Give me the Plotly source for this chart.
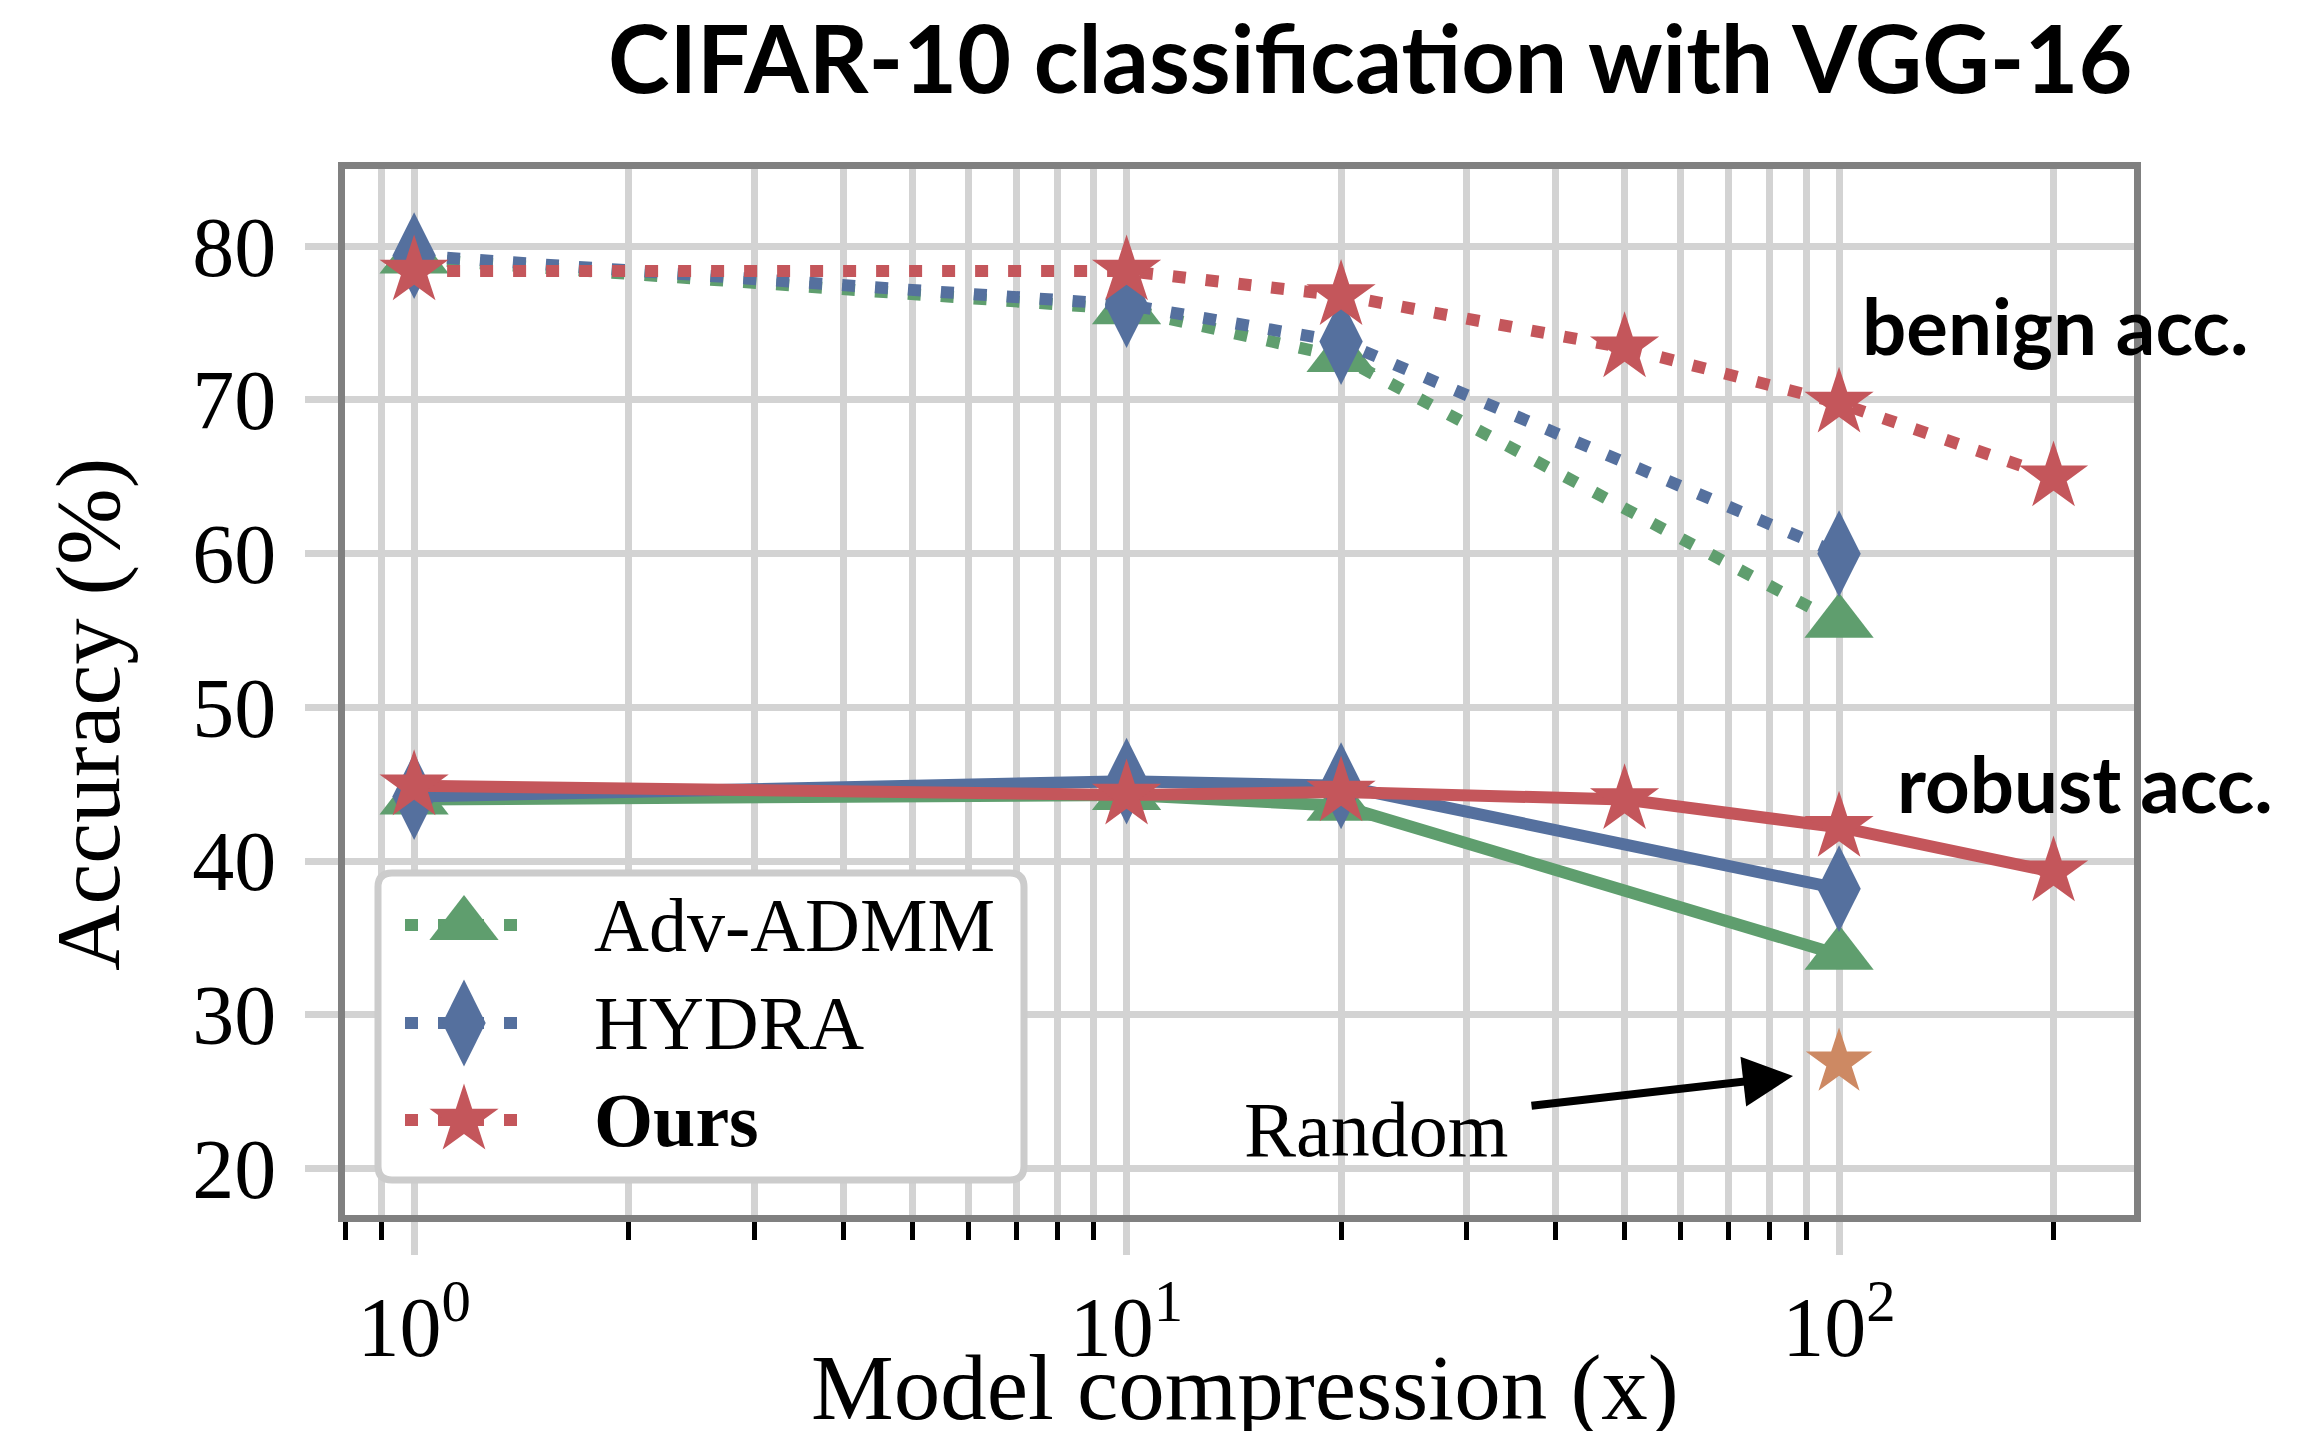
import plotly.graph_objects as go

# ---------------- data ----------------
admm_x = [1, 10, 20, 100]
admm_benign = [79.2, 75.9, 72.8, 55.5]
admm_robust = [44.0, 44.3, 43.6, 33.9]

hydra_x = [1, 10, 20, 100]
hydra_benign = [79.4, 76.2, 73.8, 60.0]
hydra_robust = [44.2, 45.2, 44.9, 38.2]

ours_x = [1, 10, 20, 50, 100, 200]
ours_benign = [78.4, 78.4, 76.8, 73.4, 69.8, 65.0]
ours_robust = [44.9, 44.3, 44.5, 44.0, 42.2, 39.3]

random_x = [100]
random_robust = [26.9]

series_names = ["Adv-ADMM", "HYDRA", "<b>Ours</b>"]
x_major_ticks = [1, 10, 100]
x_major_text = ["10<sup>0</sup>", "10<sup>1</sup>", "10<sup>2</sup>"]
x_minor_ticks = [0.8, 0.9, 2, 3, 4, 5, 6, 7, 8, 9, 20, 30, 40, 50, 60, 70, 80, 90, 200]
y_ticks = [20, 30, 40, 50, 60, 70, 80]

# ---------------- style ----------------
W, H = 2300, 1431
L, R, T, B = 345, 2134, 169, 1215
GREEN, BLUE, RED, ORANGE = "#5F9E6E", "#55709E", "#C4565B", "#CD8963"
GRID, FRAME = "#D3D3D3", "#808080"
SERIF, SANS = "Liberation Serif", "Lato"
LW = 12
DOT = "13px,20px"
SYM = {"tri": ("triangle-up", 60), "dia": ("diamond-tall", 62), "star": ("star", 52)}


def px(x):
    return (x - L) / (R - L)


def py(y):
    return (B - y) / (B - T)


fig = go.Figure()


def add(x, y, color, key, dash):
    sym, size = SYM[key]
    fig.add_trace(go.Scatter(
        x=x, y=y, mode="lines+markers",
        line=dict(color=color, width=LW, dash=dash),
        marker=dict(symbol=sym, size=size, color=color, opacity=1, line=dict(width=0)),
        showlegend=False, cliponaxis=False))


add(admm_x, admm_benign, GREEN, "tri", DOT)
add(admm_x, admm_robust, GREEN, "tri", "solid")
add(hydra_x, hydra_benign, BLUE, "dia", DOT)
add(hydra_x, hydra_robust, BLUE, "dia", "solid")
add(ours_x, ours_benign, RED, "star", DOT)
add(ours_x, ours_robust, RED, "star", "solid")
fig.add_trace(go.Scatter(
    x=random_x, y=random_robust, mode="markers",
    marker=dict(symbol="star", size=50, color=ORANGE, opacity=1, line=dict(width=0)),
    showlegend=False, cliponaxis=False))

# ---------------- manual legend (own little subplot, pixel units) ----------------
LX0, LX1, LY0, LY1 = 372, 1030, 867, 1186
lw_, lh_ = LX1 - LX0, LY1 - LY0
legend_colors = [GREEN, BLUE, RED]
legend_keys = ["tri", "dia", "star"]
row_py = [925, 1023, 1120]
for name, col, key, ry in zip(series_names, legend_colors, legend_keys, row_py):
    sym, size = SYM[key]
    yy = LY1 - ry
    fig.add_trace(go.Scatter(
        x=[405 - LX0, 464 - LX0, 522 - LX0], y=[yy, yy, yy],
        xaxis="x2", yaxis="y2", mode="lines+markers",
        line=dict(color=col, width=LW, dash=DOT),
        marker=dict(symbol=sym, size=[0, size, 0], color=col, opacity=1,
                    line=dict(width=0)),
        showlegend=False, hoverinfo="skip", cliponaxis=False))

bx0, bx1, by0, by1, rr = 6, lw_ - 6, 6, lh_ - 6, 14
box_path = (f"M {bx0+rr},{by0} L {bx1-rr},{by0} Q {bx1},{by0} {bx1},{by0+rr} "
            f"L {bx1},{by1-rr} Q {bx1},{by1} {bx1-rr},{by1} L {bx0+rr},{by1} "
            f"Q {bx0},{by1} {bx0},{by1-rr} L {bx0},{by0+rr} Q {bx0},{by0} {bx0+rr},{by0} Z")

annotations = []
for name, ry in zip(series_names, row_py):
    annotations.append(dict(
        text=name, x=592 - LX0, y=LY1 - ry, xref="x2", yref="y2",
        xanchor="left", yanchor="middle", showarrow=False,
        font=dict(family=SERIF, size=76, color="black")))

annotations += [
    dict(text="<b>CIFAR-10 classification with VGG-16</b>", x=px(1370), y=py(57),
         xref="paper", yref="paper", xanchor="center", yanchor="middle", showarrow=False,
         font=dict(family=SANS, size=93, color="black")),
    dict(text="<b>benign acc.</b>", x=px(2055), y=py(325),
         xref="paper", yref="paper", xanchor="center", yanchor="middle", showarrow=False,
         font=dict(family=SANS, size=78, color="black")),
    dict(text="<b>robust acc.</b>", x=px(2085), y=py(783),
         xref="paper", yref="paper", xanchor="center", yanchor="middle", showarrow=False,
         font=dict(family=SERIF if False else SANS, size=78, color="black")),
    dict(text="Random", x=px(1376), y=py(1129),
         xref="paper", yref="paper", xanchor="center", yanchor="middle", showarrow=False,
         font=dict(family=SERIF, size=78, color="black")),
    dict(text="", x=px(1793), y=py(1076), xref="paper", yref="paper",
         showarrow=True, arrowhead=2, arrowsize=1.25, arrowwidth=8, arrowcolor="black",
         axref="pixel", ayref="pixel", ax=1530 - 1793, ay=1106 - 1076, standoff=0),
    dict(text="Model compression (x)", x=px(1245), y=py(1387),
         xref="paper", yref="paper", xanchor="center", yanchor="middle", showarrow=False,
         font=dict(family=SERIF, size=93, color="black")),
    dict(text="Accuracy (%)", x=px(88), y=py(715), textangle=-90,
         xref="paper", yref="paper", xanchor="center", yanchor="middle", showarrow=False,
         font=dict(family=SERIF, size=92, color="black")),
]

tickfont = dict(family=SERIF, size=84, color="black")
fig.update_layout(
    width=W, height=H,
    margin=dict(l=L, r=W - R, t=T, b=H - B, pad=0),
    paper_bgcolor="white", plot_bgcolor="rgba(0,0,0,0)",
    showlegend=False,
    xaxis=dict(type="log", range=[-0.097, 2.414], domain=[0, 1],
               tickmode="array", tickvals=x_major_ticks, ticktext=x_major_text,
               ticks="outside", ticklen=33, tickwidth=7, tickcolor=GRID,
               showgrid=True, gridcolor=GRID, gridwidth=7,
               showline=True, mirror=True, linecolor=FRAME, linewidth=7,
               zeroline=False, tickfont=tickfont, fixedrange=True,
               minor=dict(tickmode="array", tickvals=x_minor_ticks, ticks="outside",
                          ticklen=18, tickwidth=5, tickcolor="black",
                          showgrid=True, gridcolor=GRID, gridwidth=7)),
    yaxis=dict(range=[16.97, 85.03], domain=[0, 1],
               tickmode="array", tickvals=y_ticks,
               ticks="outside", ticklen=33, tickwidth=7, tickcolor=GRID,
               showgrid=True, gridcolor=GRID, gridwidth=7,
               showline=True, mirror=True, linecolor=FRAME, linewidth=7,
               zeroline=False, tickfont=tickfont, fixedrange=True,
               ticklabelstandoff=12),
    xaxis2=dict(domain=[px(LX0), px(LX1)], range=[0, lw_], visible=False,
                anchor="y2", fixedrange=True),
    yaxis2=dict(domain=[py(LY1), py(LY0)], range=[0, lh_], visible=False,
                anchor="x2", fixedrange=True),
    shapes=[dict(type="path", path=box_path, xref="x2", yref="y2", layer="below",
                 fillcolor="white", line=dict(color="#CCCCCC", width=7))],
    annotations=annotations,
)

fig.write_html("out.html")
